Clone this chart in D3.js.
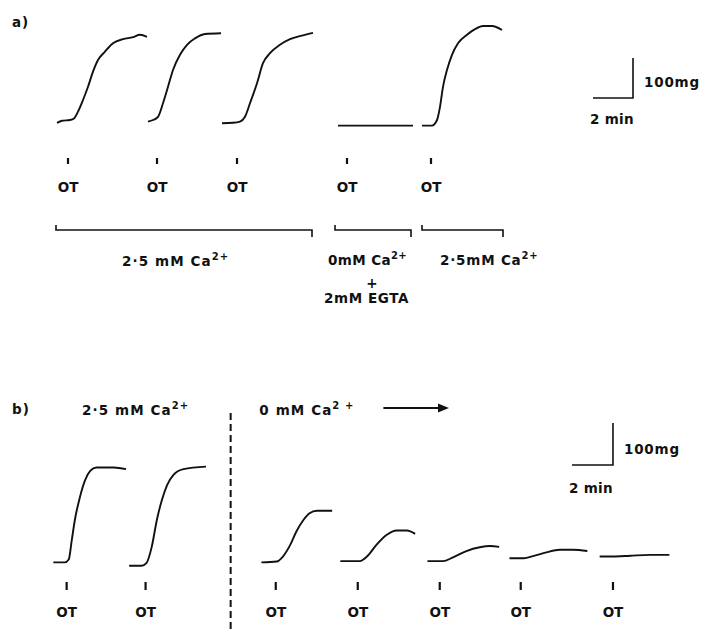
<!DOCTYPE html>
<html>
<head>
<meta charset="utf-8">
<script src="https://cdn.jsdelivr.net/npm/d3@7"></script>
<style>
  body { margin: 0; background: #fff; }
  text { font-family: "DejaVu Sans", sans-serif; font-weight: bold; fill: #111; }
</style>
</head>
<body>
<div id="chart"></div>
<script>
// ---- data (time in min, tension in mg) ----
// panel a: oxytocin (OT) given at these times
const aOT = [1.4, 5.85, 9.85, 15.35, 19.55];
const aTime = [
  [0.85, 1.1, 1.5, 1.7, 1.9, 2.15, 2.4, 2.65, 2.9, 3.25, 3.65, 4.15, 4.65, 5.0, 5.35],
  [5.4, 5.65, 5.9, 6.15, 6.4, 6.65, 7.0, 7.35, 7.75, 8.25, 9.05],
  [9.1, 9.65, 10.0, 10.25, 10.5, 10.85, 11.15, 11.5, 12.0, 12.5, 13.1, 13.65],
  [14.9, 16.75, 18.65],
  [19.1, 19.6, 19.85, 20.0, 20.15, 20.35, 20.6, 20.9, 21.35, 21.75, 22.15, 22.6, 23.1]
];
const aTension = [
  [18, 23, 25, 29, 46, 75, 108, 146, 175, 196, 217, 227, 232, 238, 233],
  [21, 25, 33, 67, 108, 150, 188, 213, 229, 240, 242],
  [17, 18, 21, 33, 67, 117, 167, 192, 213, 227, 236, 243],
  [11, 11, 11],
  [11, 11, 25, 58, 108, 150, 188, 217, 238, 252, 260, 260, 250]
];
const aPeriods = [[0.8, 13.6], [14.75, 18.55], [19.1, 23.15]];

// panel b
const bOT = [1.3, 5.15, 11.5, 15.5, 19.5, 23.45, 27.95];
const bTime = [
  [0.65, 1.2, 1.4, 1.55, 1.7, 1.95, 2.2, 2.45, 2.75, 3.6, 4.2],
  [4.35, 4.95, 5.2, 5.45, 5.7, 5.95, 6.2, 6.5, 7.0, 8.1],
  [10.8, 11.55, 11.85, 12.2, 12.5, 12.85, 13.15, 13.5, 14.25],
  [14.65, 15.6, 15.95, 16.4, 16.9, 17.4, 17.9, 18.3],
  [18.9, 19.65, 20.15, 20.8, 21.45, 21.95, 22.4],
  [22.9, 23.6, 24.05, 24.7, 25.35, 26.0, 26.7],
  [27.3, 27.95, 28.8, 29.75, 30.7]
];
const bTension = [
  [30, 30, 37, 83, 131, 186, 226, 248, 256, 256, 252],
  [22, 22, 29, 67, 131, 179, 214, 238, 252, 258],
  [30, 32, 44, 71, 103, 131, 147, 153, 153],
  [33, 33, 44, 71, 95, 106, 106, 98],
  [33, 33, 42, 57, 66, 69, 67],
  [40, 40, 45, 54, 60, 60, 57],
  [44, 44, 46, 48, 48]
];
const bSwitch = 9.3;      // change from 2.5 to 0 mM Ca
const scaleMin = 2, scaleMg = 100;

// ---- layout ----
const width = 705, height = 630;
const svg = d3.select("#chart").append("svg")
  .attr("width", width).attr("height", height);

const xA = d3.scaleLinear().domain([0, 30]).range([40, 640]);
const yA = d3.scaleLinear().domain([0, 250]).range([130, 30]);
const xB = d3.scaleLinear().domain([0, 32]).range([40, 696]);
const yB = d3.scaleLinear().domain([0, 250]).range([575, 470]);

// text with a superscript part
function label(g, x, y, main, sup, ls) {
  const t = g.append("text").attr("x", x).attr("y", y)
    .style("font-size", "13.5px").style("letter-spacing", (ls || 0) + "px");
  t.append("tspan").text(main);
  if (sup) t.append("tspan").attr("dy", -6).style("font-size", "10px").text(sup);
  return t;
}

function drawTraces(g, times, tensions, x, y) {
  const line = d3.line().x(d => x(d[0])).y(d => y(d[1])).curve(d3.curveMonotoneX);
  g.selectAll("path.trace")
    .data(times.map((t, i) => t.map((v, j) => [v, tensions[i][j]])))
    .join("path")
    .attr("class", "trace")
    .attr("d", line)
    .attr("fill", "none")
    .attr("stroke", "#111")
    .attr("stroke-width", 1.9);
}

function drawOT(g, ots, x, tickTop, tickBottom, textY) {
  g.selectAll("line.ot").data(ots).join("line")
    .attr("class", "ot")
    .attr("x1", d => x(d)).attr("x2", d => x(d))
    .attr("y1", tickTop).attr("y2", tickBottom)
    .attr("stroke", "#111").attr("stroke-width", 2.2);
  g.selectAll("text.ot").data(ots).join("text")
    .attr("class", "ot")
    .attr("x", d => x(d)).attr("y", textY)
    .attr("text-anchor", "middle")
    .style("font-size", "13.5px")
    .text("OT");
}

function scaleBar(g, x, y, t0, mg0, mgY, minY) {
  g.append("path")
    .attr("d", `M${x(t0 - scaleMin)},${y(mg0)}H${x(t0)}V${y(mg0 + scaleMg)}`)
    .attr("fill", "none").attr("stroke", "#111").attr("stroke-width", 1.6);
  label(g, x(t0) + 11, mgY, scaleMg + "mg", null, 0.8);
  label(g, x(t0 - scaleMin) - 3, minY, scaleMin + " min", null, 0.3);
}

// ---- panel a ----
const ga = svg.append("g");
label(ga, 12, 27, "a)", null, 1);
drawTraces(ga, aTime, aTension, xA, yA);
drawOT(ga, aOT, xA, 158, 164, 192);
scaleBar(ga, xA, yA, 29.65, 80, 87, 124);

// solution brackets
ga.selectAll("path.bracket").data(aPeriods).join("path")
  .attr("class", "bracket")
  .attr("d", d => `M${xA(d[0])},225V230H${xA(d[1])}V237`)
  .attr("fill", "none").attr("stroke", "#111").attr("stroke-width", 1.6);
label(ga, xA(4.1), 266, "2·5 mM Ca", "2+", 1.1);
label(ga, xA(14.4), 265, "0mM Ca", "2+", 0.4);
ga.append("text").attr("x", xA(16.6)).attr("y", 288).attr("text-anchor", "middle")
  .style("font-size", "13.5px").text("+");
label(ga, xA(14.2), 303, "2mM  EGTA", null, 0.6);
label(ga, xA(20.0), 265, "2·5mM Ca", "2+", 0.8);

// ---- panel b ----
const gb = svg.append("g");
label(gb, 12, 414, "b)", null, 1);
label(gb, xB(2.05), 415, "2·5  mM  Ca", "2+", 1.1);
label(gb, xB(10.7), 415, "0  mM  Ca", "2 +", 1.1);

// arrow
gb.append("line")
  .attr("x1", xB(16.75)).attr("x2", xB(19.6))
  .attr("y1", 408).attr("y2", 408)
  .attr("stroke", "#111").attr("stroke-width", 2);
gb.append("path")
  .attr("d", `M${xB(19.95)},408l-11,-4.5v9z`)
  .attr("fill", "#111");

// divider between solutions
gb.append("line")
  .attr("x1", xB(bSwitch)).attr("x2", xB(bSwitch))
  .attr("y1", 413).attr("y2", 630)
  .attr("stroke", "#111").attr("stroke-width", 2)
  .attr("stroke-dasharray", "7,4");

drawTraces(gb, bTime, bTension, xB, yB);
drawOT(gb, bOT, xB, 582, 590, 617);
scaleBar(gb, xB, yB, 27.95, 262, 454, 493);
</script>
</body>
</html>
